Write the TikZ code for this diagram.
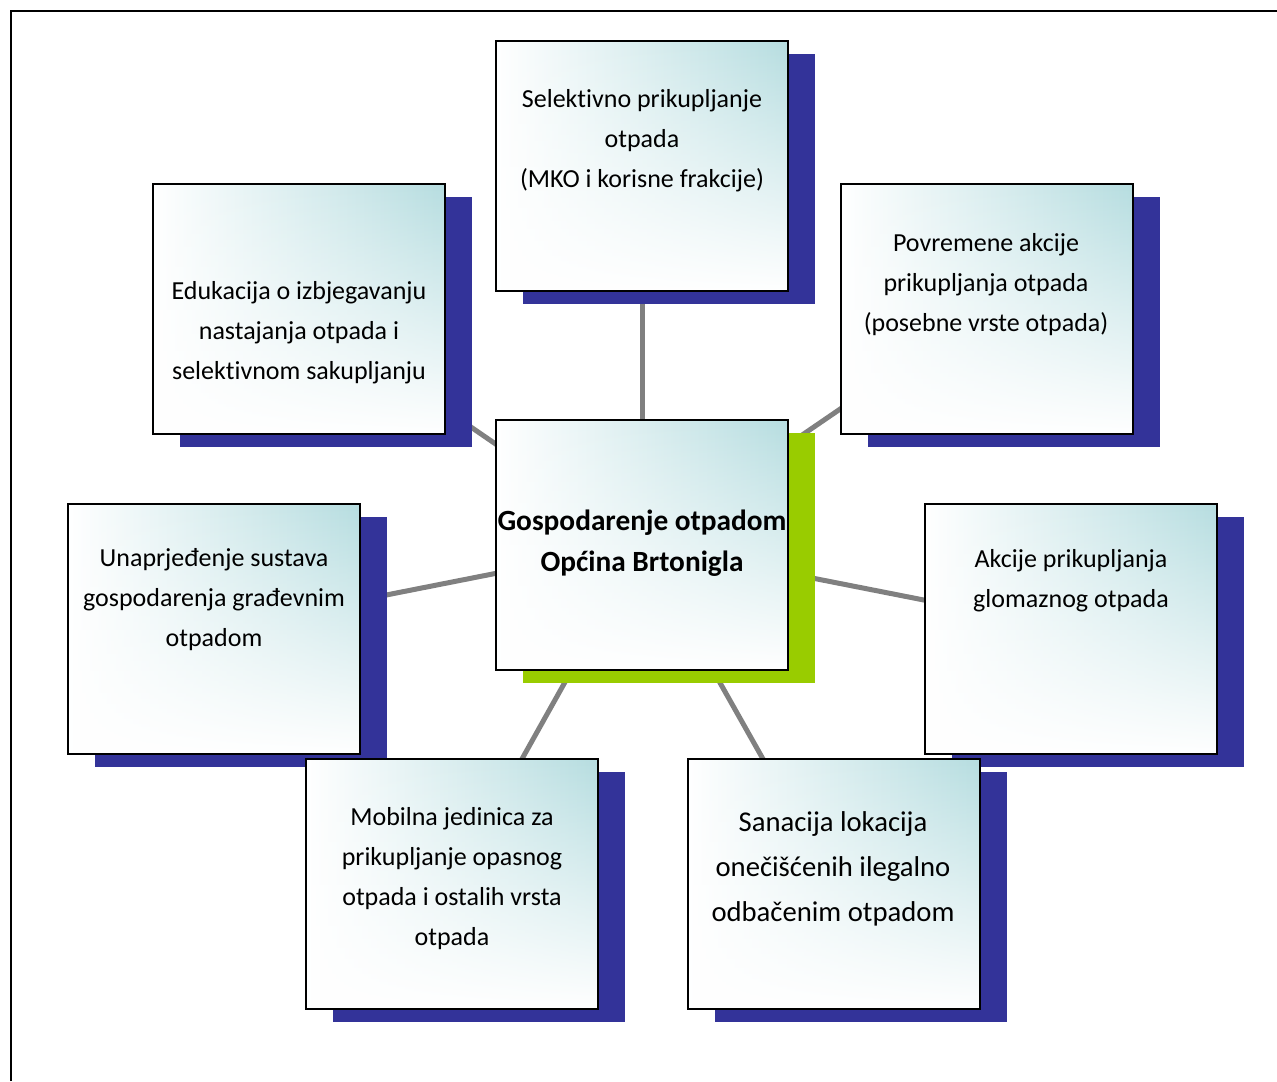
\documentclass[tikz,border=0pt]{standalone}
\usepackage{fontspec}
\setmainfont{Carlito}[Ligatures=NoCommon]
\usetikzlibrary{shadows,fadings,backgrounds}
\definecolor{boxteal}{RGB}{182,221,224}
\definecolor{shadownavy}{RGB}{51,51,153}
\definecolor{shadowgreen}{RGB}{153,204,0}
\definecolor{linkgrey}{RGB}{128,128,128}

\begin{document}
\begin{tikzpicture}[x=0.75pt,y=-0.75pt,
    card/.style={draw=black,line width=1.5pt,minimum width=219pt,minimum height=187.5pt,inner sep=0pt,
      path picture={
        \shade[left color=white,middle color=boxteal!50!white,right color=boxteal]
          (path picture bounding box.south west) rectangle (path picture bounding box.north east);
        \fill[white,path fading=north]
          (path picture bounding box.south west) rectangle (path picture bounding box.north east);}},
    box/.style={card,drop shadow={shadow xshift=20.25pt,shadow yshift=-10.1pt,fill=shadownavy,opacity=1}},
    hub/.style={card,drop shadow={shadow xshift=20.25pt,shadow yshift=-10.1pt,fill=shadowgreen,opacity=1}},
    txt/.style={align=center,inner sep=0pt,font=\fontsize{19.5pt}{30pt}\selectfont},
    link/.style={draw=linkgrey,line width=3.75pt}]
    \useasboundingbox (0,0) rectangle (1277,1081);
    \draw[line width=1.5pt] (10.5,1081) -- (10.5,11) -- (1277,11);

    % boxes
    \node[hub] (hub) at (642,544.5) {};
    \node[box] (sel) at (642,166) {};
    \node[box] (pov) at (986.5,309) {};
    \node[box] (edu) at (299,309) {};
    \node[box] (akc) at (1071,629) {};
    \node[box] (una) at (214,629) {};
    \node[box] (san) at (833.5,884) {};
    \node[box] (mob) at (452,884) {};

    % texts
    \node[txt,font=\bfseries\fontsize{22pt}{31pt}\selectfont] (hub-t) at (642,543) {Gospodarenje otpadom\\Općina Brtonigla};
    \node[txt] (sel-t) at (642,141) {Selektivno prikupljanje\\otpada\\(MKO i korisne frakcije)};
    \node[txt] (pov-t) at (986,285) {Povremene akcije\\prikupljanja otpada\\(posebne vrste otpada)};
    \node[txt] (edu-t) at (299,333) {Edukacija o izbjegavanju\\nastajanja otpada i\\selektivnom sakupljanju};
    \node[txt] (akc-t) at (1071,581) {Akcije prikupljanja\\glomaznog otpada};
    \node[txt] (una-t) at (214,600) {Unaprjeđenje sustava\\gospodarenja građevnim\\otpadom};
    \node[txt] (mob-t) at (452,879) {Mobilna jedinica za\\prikupljanje opasnog\\otpada i ostalih vrsta\\otpada};
    \node[txt,font=\fontsize{21.5pt}{34pt}\selectfont] (san-t) at (833,869) {Sanacija lokacija\\onečišćenih ilegalno\\odbačenim otpadom};

    \begin{scope}[on background layer]
        \foreach \n in {sel,pov,edu,akc,una,san,mob}
            \draw[link] (hub.center) -- (\n.center);
    \end{scope}
\end{tikzpicture}
\end{document}
